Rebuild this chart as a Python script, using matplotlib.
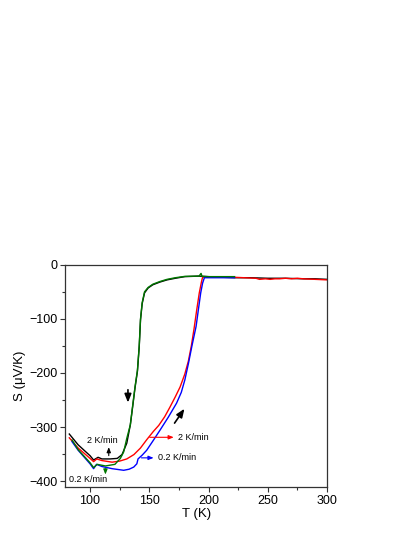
import matplotlib
matplotlib.use("Agg")
import matplotlib.pyplot as plt
from matplotlib.ticker import MultipleLocator

plt.rcParams["font.family"] = ["Liberation Sans", "DejaVu Sans"]

# cooling 2 K/min (black)
t_black = [82.5, 90, 100, 103, 106.8, 110, 117, 123, 127, 131, 134, 136, 138, 140, 141.5, 142.6, 144,
           146, 149, 153, 159, 165, 172, 180, 192, 200, 210, 222, 235, 250, 265, 280, 290, 300]
s_black = [-313, -333, -353, -361, -356, -359, -359, -358, -351, -330, -296, -262, -227, -197, -152,
           -102, -72, -52, -43, -37, -32, -28, -25, -22, -21, -22, -23, -24, -24, -25, -25, -26, -26, -27]
# heating 2 K/min (red)
t_red = [82.5, 90, 100, 103, 105.7, 110, 118.6, 125, 131, 137, 142.5, 148, 153.5, 158, 163, 167.5, 172,
         176, 180, 183, 185.5, 187.8, 190, 192.2, 194, 195, 197, 210, 220, 230, 240, 243, 248, 252, 256,
         260, 265, 270, 275, 280, 290, 300]
s_red = [-320, -339, -358, -364, -359, -362, -365, -363, -359, -351, -339, -323, -308, -297, -281, -263,
         -244, -226, -202, -178, -150, -118, -84, -52, -32, -23, -23, -23, -23, -24, -25, -27, -26, -27,
         -26, -26, -25, -26, -25, -26, -27, -28]
# heating 0.2 K/min (blue)
t_blue = [84.8, 90, 100, 103, 105.5, 110, 118.6, 128.4, 133, 136.9, 139.5, 140.5, 144, 147.8, 153, 159,
          166, 173, 177, 180, 183, 186, 189.5, 191.5, 193.4, 195, 196.5, 210, 222]
s_blue = [-327, -343, -368, -377, -369, -373, -377, -380, -378, -374, -368, -359, -352, -343, -326, -306,
          -282, -256, -236, -213, -183, -150, -114, -82, -52, -34, -24, -24, -24]
# cooling 0.2 K/min (green)
t_green = [84.8, 90, 100, 103, 106, 113, 121, 125.6, 128.4, 131, 134, 136, 138, 140, 141.5, 142.6, 144,
           146, 149, 153, 159, 165, 172, 180, 192, 193.7, 194.5, 200, 222]
s_green = [-324, -342, -366, -375, -369, -372, -369, -358, -346, -321, -296, -260, -225, -195, -150,
           -100, -70, -50, -42, -36, -31, -27, -24, -21.5, -21, -16, -21.5, -22, -22]

fig = plt.figure(figsize=(4.15, 5.37), dpi=100)
ax = fig.add_axes([0.157, 0.093, 0.631, 0.414])

ax.plot(t_black, s_black, color="black", lw=1.0)
ax.plot(t_red, s_red, color="#ff0000", lw=1.0)
ax.plot(t_blue, s_blue, color="#0000ff", lw=1.0)
ax.plot(t_green, s_green, color="#007700", lw=1.0)

ax.set_xlim(79, 300)
ax.set_ylim(-411, 0)
ax.xaxis.set_major_locator(MultipleLocator(50))
ax.xaxis.set_minor_locator(MultipleLocator(25))
ax.yaxis.set_major_locator(MultipleLocator(100))
ax.yaxis.set_minor_locator(MultipleLocator(50))
ax.tick_params(which="both", direction="out", labelsize=9, width=0.8, color="#333333", pad=2)
ax.tick_params(which="major", length=3.5)
ax.tick_params(which="minor", length=2)
ax.tick_params(top=False, right=False)
for sp in ax.spines.values():
    sp.set_color("#333333")
    sp.set_linewidth(0.9)
ax.set_xlabel("T (K)", fontsize=9.5, labelpad=1)
ax.set_ylabel("S (\u03bcV/K)", fontsize=9.5, labelpad=2)

# direction arrows
ax.annotate("", xy=(132, -260), xytext=(132, -226),
            arrowprops=dict(arrowstyle="-|>,head_width=0.2,head_length=0.5", color="black", lw=1.2))
ax.annotate("", xy=(181, -262), xytext=(170, -297),
            arrowprops=dict(arrowstyle="-|>,head_width=0.2,head_length=0.5", color="black", lw=1.2))

# rate labels
ax.text(110, -325, "2 K/min", fontsize=6.5, ha="center", va="center")
ax.annotate("", xy=(115.8, -332), xytext=(115.8, -358),
            arrowprops=dict(arrowstyle="-|>,head_width=0.12,head_length=0.3", color="black", lw=0.8))
ax.annotate("", xy=(113, -393), xytext=(113, -372),
            arrowprops=dict(arrowstyle="-|>,head_width=0.12,head_length=0.3", color="#007700", lw=0.8))
ax.text(82, -397, "0.2 K/min", fontsize=6.5, ha="left", va="center")
ax.annotate("", xy=(173, -319), xytext=(148, -319),
            arrowprops=dict(arrowstyle="-|>,head_width=0.12,head_length=0.3", color="#ff0000", lw=0.8))
ax.text(174, -319, "2 K/min", fontsize=6.5, ha="left", va="center")
ax.annotate("", xy=(156, -357), xytext=(141, -357),
            arrowprops=dict(arrowstyle="-|>,head_width=0.12,head_length=0.3", color="#0000ff", lw=0.8))
ax.text(157, -357, "0.2 K/min", fontsize=6.5, ha="left", va="center")

fig.savefig("out.png", dpi=100)
